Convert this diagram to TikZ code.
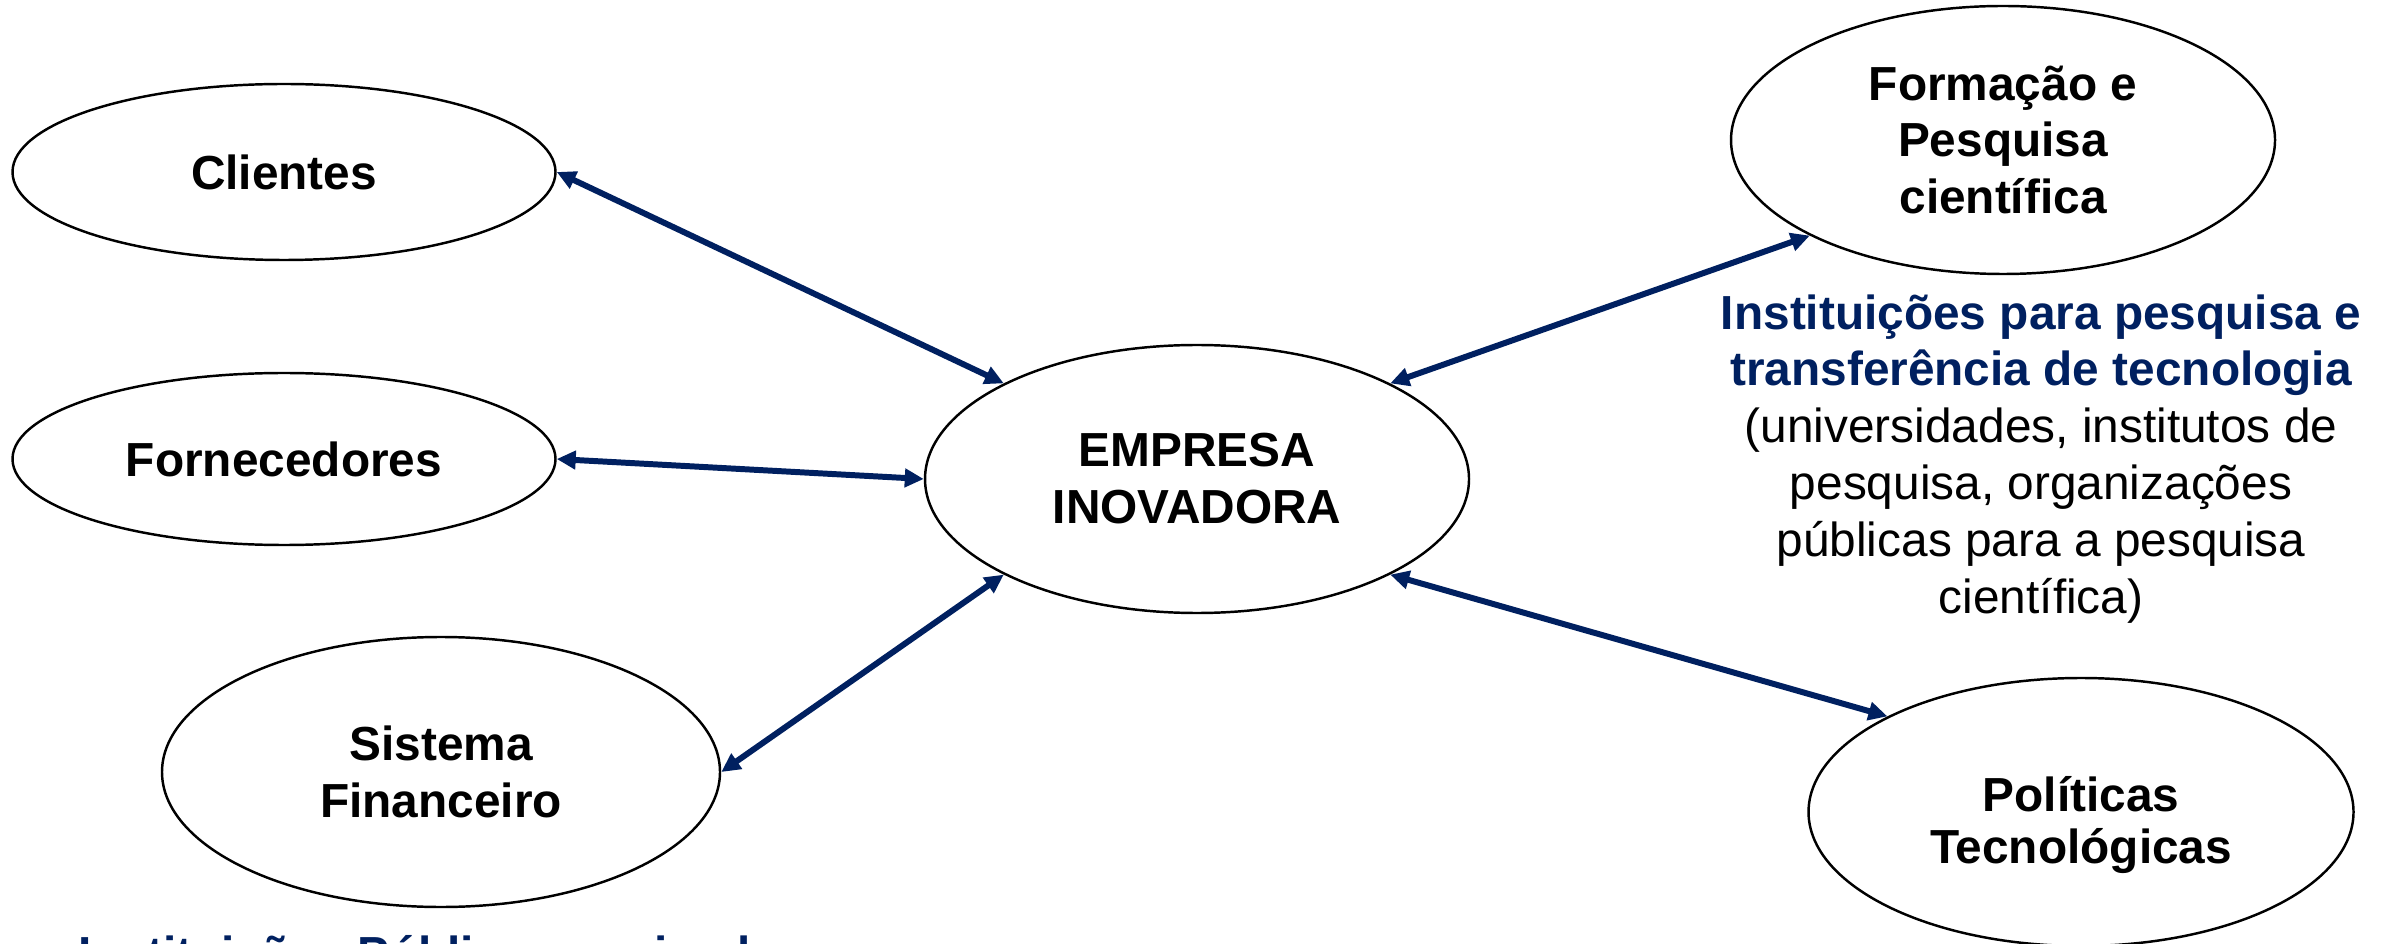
\documentclass[tikz,border=0pt]{standalone}
\usepackage{fontspec}
\setmainfont{Liberation Sans}
\usetikzlibrary{shapes.geometric,arrows.meta}
\definecolor{navy}{HTML}{002060}
\begin{document}
\begin{tikzpicture}[x=0.1mm,y=-0.1mm,
  actor/.style={ellipse,draw=black,line width=0.7pt,fill=white,inner sep=0pt,
    align=center,font=\fontsize{13.6pt}{16.2pt}\selectfont\bfseries},
  link/.style={draw=navy,line width=1.7pt,
    {Triangle[length=1.9mm,width=1.8mm]}-{Triangle[length=1.9mm,width=1.8mm]}},
  note/.style={align=center,font=\fontsize{13.6pt}{16.2pt}\selectfont}]
\useasboundingbox (0,0) rectangle (2392,944);
\clip (0,0) rectangle (2392,944);

% actors around the firm
\node[actor,minimum width=54.3mm,minimum height=17.6mm] (cli) at (284,172) {Clientes};
\node[actor,minimum width=54.3mm,minimum height=17.2mm] (forn) at (284,459) {Fornecedores};
\node[actor,minimum width=55.8mm,minimum height=27mm] (sis) at (441,772) {Sistema\\Financeiro};
\node[actor,minimum width=54.4mm,minimum height=26.8mm] (emp) at (1197,479) {EMPRESA\\INOVADORA};
\node[actor,minimum width=54.4mm,minimum height=26.8mm] (form) at (2003,140) {Formação e\\Pesquisa\\científica};
\node[actor,minimum width=54.5mm,minimum height=26.8mm,
  font=\fontsize{13.6pt}{14.6pt}\selectfont\bfseries] (pol) at (2081,812)
  {\rule{0pt}{6.1mm}Políticas\\Tecnológicas};

% two-way links
\draw[link] (cli.east) -- (emp.north west);
\draw[link] (forn.east) -- (emp.west);
\draw[link] (sis.east) -- (emp.south west);
\draw[link] (form.south west) -- (emp.north east);
\draw[link] (pol.north west) -- (emp.south east);

% notes
\node[note] (inst) at (2041,459)
  {\textcolor{navy}{\bfseries Instituições para pesquisa e}\\
   \textcolor{navy}{\bfseries transferência de tecnologia}\\
   (universidades, institutos de\\
   pesquisa, organizações\\
   públicas para a pesquisa\\
   científica)};
\node[note,anchor=base west,text=navy,font=\fontsize{13.6pt}{16.2pt}\selectfont\bfseries]
  (pub) at (66,970) {Instituições Públicas e privadas};

% tail of the heading glyph above
\fill[navy] (1543,0) arc[start angle=180,end angle=360,x radius=8.5,y radius=4.5];
\end{tikzpicture}
\end{document}
